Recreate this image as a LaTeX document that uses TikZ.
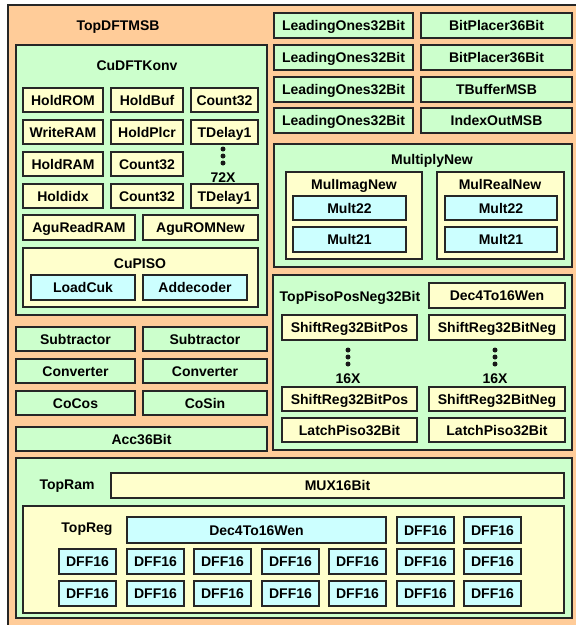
\documentclass[tikz,border=0pt]{standalone}
\usepackage{fontspec}
\setmainfont{Liberation Sans}
\definecolor{orangefill}{RGB}{255,204,153}
\definecolor{greenfill}{RGB}{204,255,204}
\definecolor{yellowfill}{RGB}{255,255,204}
\definecolor{cyanfill}{RGB}{204,255,255}

\begin{document}
\begin{tikzpicture}[x=1pt, y=-1pt,
	every node/.style={font=\fontsize{14}{16}\selectfont\bfseries, inner sep=0pt, text height=10pt, text depth=0pt},
	blk/.style={draw=black!85, line width=1.6pt},
	orangebox/.style={blk, fill=orangefill},
	greenbox/.style={blk, fill=greenfill},
	yellowbox/.style={blk, fill=yellowfill},
	cyanbox/.style={blk, fill=cyanfill},
	dotmark/.style={fill=black!90}]
			
			\useasboundingbox (0,0) rectangle (576,625);
			\clip (0,0) rectangle (576,625);
			
			% top level
			\draw [orangebox] (8,5) rectangle (600,650);
			\draw (118,25) node (topdft) {TopDFTMSB};
			
			% CuDFTKonv
			\draw [greenbox] (16,45) rectangle (267,315);
			\draw (137,65) node (cudft) {CuDFTKonv};
			\draw [yellowbox] (23,88) rectangle (103,112) node [midway] (holdrom) {HoldROM};
			\draw [yellowbox] (111,88) rectangle (183,112) node [midway] (holdbuf) {HoldBuf};
			\draw [yellowbox] (191,88) rectangle (258,112) node [midway] (countA) {Count32};
			\draw [yellowbox] (23,120) rectangle (103,144) node [midway] (writeram) {WriteRAM};
			\draw [yellowbox] (111,120) rectangle (183,144) node [midway] (holdplcr) {HoldPlcr};
			\draw [yellowbox] (191,120) rectangle (258,144) node [midway] (tdelayA) {TDelay1};
			\draw [yellowbox] (23,152) rectangle (103,176) node [midway] (holdram) {HoldRAM};
			\draw [yellowbox] (111,152) rectangle (183,176) node [midway] (countB) {Count32};
			\draw [yellowbox] (23,184) rectangle (103,208) node [midway] (holdidx) {Holdidx};
			\draw [yellowbox] (111,184) rectangle (183,208) node [midway] (countC) {Count32};
			\draw [yellowbox] (191,184) rectangle (258,208) node [midway] (tdelayB) {TDelay1};
			\fill [dotmark] (223,149) circle (2.5);
			\fill [dotmark] (223,156) circle (2.5);
			\fill [dotmark] (223,163) circle (2.5);
			\draw (223,177) node (rep72) {72X};
			\draw [yellowbox] (23,215) rectangle (135,240) node [midway] (agurd) {AguReadRAM};
			\draw [yellowbox] (143,215) rectangle (258,240) node [midway] (agurom) {AguROMNew};
			
			% CuPISO
			\draw [yellowbox] (23,248) rectangle (258,307);
			\draw (140,263) node (cupiso) {CuPISO};
			\draw [cyanbox] (31,275) rectangle (135,300) node [midway] (loadcuk) {LoadCuk};
			\draw [cyanbox] (143,275) rectangle (247,300) node [midway] (addec) {Addecoder};
			
			% left blocks
			\draw [greenbox] (16,327) rectangle (135,351) node [midway] (subA) {Subtractor};
			\draw [greenbox] (143,327) rectangle (267,351) node [midway] (subB) {Subtractor};
			\draw [greenbox] (16,359) rectangle (135,383) node [midway] (convA) {Converter};
			\draw [greenbox] (143,359) rectangle (267,383) node [midway] (convB) {Converter};
			\draw [greenbox] (16,391) rectangle (135,415) node [midway] (cocos) {CoCos};
			\draw [greenbox] (143,391) rectangle (267,415) node [midway] (cosin) {CoSin};
			\draw [greenbox] (16,427) rectangle (267,451) node [midway] (acc) {Acc36Bit};
			
			% right blocks
			\draw [greenbox] (274,13) rectangle (413,38) node [midway] (leadA) {LeadingOnes32Bit};
			\draw [greenbox] (274,45) rectangle (413,70) node [midway] (leadB) {LeadingOnes32Bit};
			\draw [greenbox] (274,77) rectangle (413,102) node [midway] (leadC) {LeadingOnes32Bit};
			\draw [greenbox] (274,108) rectangle (413,133) node [midway] (leadD) {LeadingOnes32Bit};
			\draw [greenbox] (421,13) rectangle (572,38) node [midway] (bitplA) {BitPlacer36Bit};
			\draw [greenbox] (421,45) rectangle (572,70) node [midway] (bitplB) {BitPlacer36Bit};
			\draw [greenbox] (421,77) rectangle (572,102) node [midway] (tbuf) {TBufferMSB};
			\draw [greenbox] (421,108) rectangle (572,133) node [midway] (idxout) {IndexOutMSB};
			
			% MultiplyNew
			\draw [greenbox] (274,144) rectangle (572,267);
			\draw (432,159) node (multnew) {MultiplyNew};
			\draw [yellowbox] (286,172) rectangle (422,259);
			\draw (354,184) node (mulimag) {MulImagNew};
			\draw [yellowbox] (437,172) rectangle (564,259);
			\draw (500,184) node (mulreal) {MulRealNew};
			\draw [cyanbox] (293,196) rectangle (406,220) node [midway] (mtA) {Mult22};
			\draw [cyanbox] (293,227) rectangle (406,252) node [midway] (mtB) {Mult21};
			\draw [cyanbox] (445,196) rectangle (557,220) node [midway] (mtC) {Mult22};
			\draw [cyanbox] (445,227) rectangle (557,252) node [midway] (mtD) {Mult21};
			
			% TopPisoPosNeg32Bit
			\draw [greenbox] (273,275) rectangle (572,450);
			\draw (350,296) node (topiso) {TopPisoPosNeg32Bit};
			\draw [yellowbox] (429,283) rectangle (565,308) node [midway] (decA) {Dec4To16Wen};
			\draw [yellowbox] (282,315) rectangle (417,340) node [midway] (srpA) {ShiftReg32BitPos};
			\draw [yellowbox] (429,315) rectangle (565,340) node [midway] (srnA) {ShiftReg32BitNeg};
			\fill [dotmark] (348,350) circle (2.5);
			\fill [dotmark] (348,357) circle (2.5);
			\fill [dotmark] (348,364) circle (2.5);
			\draw (348,378) node (rep16A) {16X};
			\fill [dotmark] (495,350) circle (2.5);
			\fill [dotmark] (495,357) circle (2.5);
			\fill [dotmark] (495,364) circle (2.5);
			\draw (495,378) node (rep16B) {16X};
			\draw [yellowbox] (282,387) rectangle (417,411) node [midway] (srpB) {ShiftReg32BitPos};
			\draw [yellowbox] (429,387) rectangle (565,411) node [midway] (srnB) {ShiftReg32BitNeg};
			\draw [yellowbox] (282,418) rectangle (417,442) node [midway] (latchA) {LatchPiso32Bit};
			\draw [yellowbox] (429,418) rectangle (565,442) node [midway] (latchB) {LatchPiso32Bit};
			
			% TopRam
			\draw [greenbox] (16,458) rectangle (572,618);
			\draw (67,484) node (topram) {TopRam};
			\draw [yellowbox] (111,473) rectangle (564,498) node [midway] (mux) {MUX16Bit};
			\draw [yellowbox] (23,506) rectangle (564,613);
			\draw (87,527) node (topreg) {TopReg};
			\draw [cyanbox] (127,517) rectangle (386,543) node [midway] (decB) {Dec4To16Wen};
			\draw [cyanbox] (397,517) rectangle (454,543) node [midway] (dffA) {DFF16};
			\draw [cyanbox] (464,517) rectangle (521,543) node [midway] (dffB) {DFF16};
			
			\draw [cyanbox] (59,549) rectangle (116,574) node [midway] (dffC) {DFF16};
			\draw [cyanbox] (127,549) rectangle (184,574) node [midway] (dffD) {DFF16};
			\draw [cyanbox] (194,549) rectangle (251,574) node [midway] (dffE) {DFF16};
			\draw [cyanbox] (262,549) rectangle (319,574) node [midway] (dffF) {DFF16};
			\draw [cyanbox] (329,549) rectangle (386,574) node [midway] (dffG) {DFF16};
			\draw [cyanbox] (397,549) rectangle (454,574) node [midway] (dffH) {DFF16};
			\draw [cyanbox] (464,549) rectangle (521,574) node [midway] (dffI) {DFF16};
			
			\draw [cyanbox] (59,581) rectangle (116,606) node [midway] (dffJ) {DFF16};
			\draw [cyanbox] (127,581) rectangle (184,606) node [midway] (dffK) {DFF16};
			\draw [cyanbox] (194,581) rectangle (251,606) node [midway] (dffL) {DFF16};
			\draw [cyanbox] (262,581) rectangle (319,606) node [midway] (dffM) {DFF16};
			\draw [cyanbox] (329,581) rectangle (386,606) node [midway] (dffN) {DFF16};
			\draw [cyanbox] (397,581) rectangle (454,606) node [midway] (dffO) {DFF16};
			\draw [cyanbox] (464,581) rectangle (521,606) node [midway] (dffP) {DFF16};
			
\end{tikzpicture}
\end{document}
